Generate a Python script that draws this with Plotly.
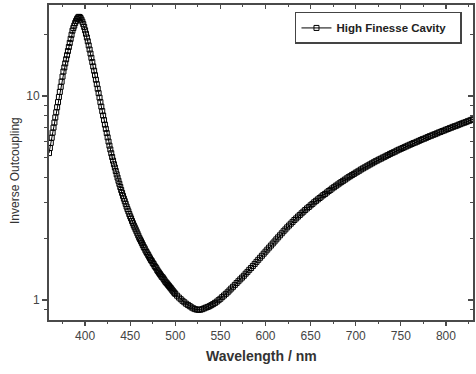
import plotly.graph_objects as go

# Wavelength samples (nm): 1 nm steps on the steep left part, 2 nm steps after 500 nm
wavelength = list(range(360, 500)) + list(range(500, 831, 2))

inv_outcoupling_a = [  # 360 .. 499 nm, 1 nm step
    5.25, 5.56, 5.89, 6.24, 6.61, 7.00, 7.41, 7.85, 8.32, 8.81,
    9.33, 9.89, 10.47, 11.09, 11.75, 12.45, 13.18, 13.80, 14.45, 15.14,
    15.85, 16.60, 17.38, 18.20, 19.05, 19.95, 20.89, 21.53, 22.13, 22.80,
    23.33, 23.82, 24.21, 24.43, 24.38, 24.10, 23.66, 23.12, 22.49, 21.78,
    20.99, 20.18, 19.36, 18.54, 17.70, 16.90, 16.14, 15.38, 14.66, 13.96,
    13.30, 12.65, 12.02, 11.43, 10.86, 10.33, 9.82, 9.33, 8.87, 8.43,
    8.02, 7.62, 7.24, 6.90, 6.58, 6.27, 5.98, 5.71, 5.47, 5.24,
    5.02, 4.82, 4.63, 4.46, 4.29, 4.13, 3.98, 3.84, 3.71, 3.58,
    3.46, 3.35, 3.24, 3.14, 3.05, 2.96, 2.87, 2.79, 2.72, 2.64,
    2.57, 2.51, 2.44, 2.38, 2.32, 2.27, 2.22, 2.17, 2.12, 2.07,
    2.02, 1.98, 1.94, 1.90, 1.86, 1.82, 1.79, 1.75, 1.72, 1.69,
    1.66, 1.63, 1.60, 1.57, 1.55, 1.52, 1.50, 1.47, 1.45, 1.43,
    1.40, 1.38, 1.36, 1.34, 1.32, 1.30, 1.29, 1.27, 1.25, 1.23,
    1.216, 1.202, 1.186, 1.172, 1.156, 1.143, 1.127, 1.112, 1.099, 1.084,
]

inv_outcoupling_b = [  # 500 .. 830 nm, 2 nm step
    1.072, 1.050, 1.028, 1.009, 0.991, 0.975, 0.959, 0.946, 0.933, 0.920,
    0.910, 0.902, 0.897, 0.895, 0.897, 0.902, 0.910, 0.918, 0.925, 0.933,
    0.944, 0.955, 0.968, 0.982, 0.998, 1.014, 1.033, 1.052, 1.072, 1.091,
    1.114, 1.138, 1.161, 1.186, 1.211, 1.236, 1.262, 1.288, 1.315, 1.346,
    1.374, 1.406, 1.435, 1.469, 1.503, 1.538, 1.574, 1.611, 1.648, 1.687,
    1.726, 1.766, 1.807, 1.849, 1.892, 1.936, 1.982, 2.028, 2.075, 2.123,
    2.173, 2.218, 2.270, 2.317, 2.366, 2.415, 2.466, 2.512, 2.564, 2.612,
    2.661, 2.710, 2.761, 2.812, 2.858, 2.911, 2.958, 3.013, 3.062, 3.112,
    3.162, 3.214, 3.266, 3.311, 3.365, 3.420, 3.467, 3.524, 3.573, 3.631,
    3.681, 3.733, 3.784, 3.837, 3.890, 3.945, 3.999, 4.046, 4.102, 4.150,
    4.207, 4.256, 4.305, 4.365, 4.416, 4.467, 4.519, 4.571, 4.624, 4.677,
    4.732, 4.786, 4.831, 4.887, 4.932, 4.989, 5.035, 5.093, 5.140, 5.200,
    5.248, 5.297, 5.346, 5.408, 5.458, 5.508, 5.559, 5.610, 5.662, 5.715,
    5.768, 5.821, 5.875, 5.916, 5.970, 6.026, 6.081, 6.138, 6.180, 6.237,
    6.295, 6.353, 6.397, 6.457, 6.501, 6.561, 6.622, 6.668, 6.730, 6.776,
    6.839, 6.887, 6.950, 6.998, 7.063, 7.112, 7.161, 7.228, 7.278, 7.345,
    7.396, 7.447, 7.516, 7.568, 7.638, 7.691,
]

inv_outcoupling = inv_outcoupling_a + inv_outcoupling_b

x_major_ticks = [400, 450, 500, 550, 600, 650, 700, 750, 800]
x_minor_ticks = [375, 425, 475, 525, 575, 625, 675, 725, 775, 825]
y_major_ticks = [1, 10]
y_major_labels = ["1", "10"]
y_minor_ticks = [0.9, 2, 3, 4, 5, 6, 7, 8, 9, 20]

series_name = "High Finesse Cavity"
x_title = "Wavelength / nm"
y_title = "Inverse Outcoupling"

FONT = "Liberation Sans, Arial, sans-serif"
AX = "#4a4a4a"

fig = go.Figure()
fig.add_trace(go.Scatter(
    x=wavelength, y=inv_outcoupling, mode="lines+markers",
    name="<b>" + series_name + "</b>\u00a0\u00a0\u00a0",
    line=dict(color="black", width=1),
    marker=dict(symbol="square-open", size=5, color="black", line=dict(width=1, color="black")),
))

x_range = [360, 830]
y_range = [-0.098, 1.446]

fig.update_layout(
    width=476, height=374,
    margin=dict(l=49, r=1, t=5, b=54),
    paper_bgcolor="white", plot_bgcolor="white",
    font=dict(family=FONT, size=12, color="#333"),
    showlegend=True,
    legend=dict(
        x=0.974, y=0.978, xanchor="right", yanchor="top",
        bgcolor="white", bordercolor="#444", borderwidth=1.5,
        font=dict(family=FONT, size=11.5, color="#222"),
        itemwidth=30, tracegroupgap=0,
    ),
    xaxis=dict(
        range=x_range, showgrid=False, zeroline=False,
        showline=True, linecolor=AX, linewidth=2, mirror=True,
        tickmode="array", tickvals=x_major_ticks,
        ticks="outside", ticklen=4, tickwidth=1.2, tickcolor=AX,
        tickfont=dict(family=FONT, size=12, color="#444"),
        minor=dict(tickmode="array", tickvals=x_minor_ticks, ticks="outside",
                   ticklen=2, tickwidth=1, tickcolor=AX),
    ),
    yaxis=dict(
        type="log", range=y_range, showgrid=False, zeroline=False,
        showline=True, linecolor=AX, linewidth=2, mirror=True,
        tickmode="array", tickvals=y_major_ticks, ticktext=y_major_labels,
        ticks="outside", ticklen=5, tickwidth=1.2, tickcolor=AX,
        tickfont=dict(family=FONT, size=12, color="#444"),
        minor=dict(tickmode="array", tickvals=y_minor_ticks, ticks="outside",
                   ticklen=3, tickwidth=1, tickcolor=AX),
    ),
    xaxis2=dict(
        range=x_range, overlaying="x", side="top", anchor="y",
        showgrid=False, zeroline=False, showline=False, showticklabels=False,
        tickmode="array", tickvals=x_major_ticks,
        ticks="inside", ticklen=4, tickwidth=1.2, tickcolor=AX,
        minor=dict(tickmode="array", tickvals=x_minor_ticks, ticks="inside",
                   ticklen=2, tickwidth=1, tickcolor=AX),
    ),
    yaxis2=dict(
        type="log", range=y_range, overlaying="y", side="right", anchor="x",
        showgrid=False, zeroline=False, showline=False, showticklabels=False,
        tickmode="array", tickvals=y_major_ticks,
        ticks="inside", ticklen=5, tickwidth=1.2, tickcolor=AX,
        minor=dict(tickmode="array", tickvals=y_minor_ticks, ticks="inside",
                   ticklen=3, tickwidth=1, tickcolor=AX),
    ),
    annotations=[
        dict(text="<b>" + x_title + "</b>", xref="paper", yref="paper",
             x=0.5, y=0, yshift=-36, xanchor="center", yanchor="middle",
             showarrow=False, font=dict(family=FONT, size=14, color="#333")),
        dict(text=y_title, xref="paper", yref="paper", textangle=-90,
             x=0, xshift=-34, y=0.473, xanchor="center", yanchor="middle",
             showarrow=False, font=dict(family=FONT, size=12, color="#333")),
    ],
)

# invisible helper trace so the mirrored tick axes are drawn
fig.add_trace(go.Scatter(x=[x_range[0]], y=[1], xaxis="x2", yaxis="y2",
                         mode="markers", marker=dict(opacity=0), showlegend=False,
                         hoverinfo="skip"))

fig.write_html("out.html", config={"displayModeBar": False, "staticPlot": True},
               post_script="document.body.style.margin='0';document.body.style.padding='0';")
